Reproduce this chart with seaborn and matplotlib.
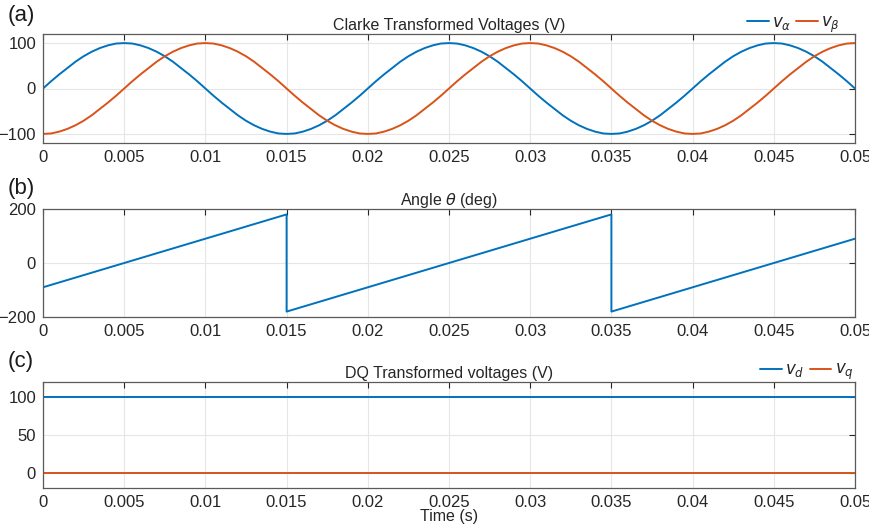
import matplotlib
matplotlib.use("Agg")
import matplotlib.pyplot as plt
import seaborn as sns

# ---- data ----
t_wave = [i * 0.0005 for i in range(101)]
v_alpha = [0, 16, 31, 45, 59, 71, 81, 89, 95, 99, 100, 99, 95, 89, 81, 71, 59, 45, 31, 16,
           0, -16, -31, -45, -59, -71, -81, -89, -95, -99, -100, -99, -95, -89, -81, -71, -59, -45, -31, -16,
           0, 16, 31, 45, 59, 71, 81, 89, 95, 99, 100, 99, 95, 89, 81, 71, 59, 45, 31, 16,
           0, -16, -31, -45, -59, -71, -81, -89, -95, -99, -100, -99, -95, -89, -81, -71, -59, -45, -31, -16,
           0, 16, 31, 45, 59, 71, 81, 89, 95, 99, 100, 99, 95, 89, 81, 71, 59, 45, 31, 16,
           0]
v_beta = [-100, -99, -95, -89, -81, -71, -59, -45, -31, -16, 0, 16, 31, 45, 59, 71, 81, 89, 95, 99,
          100, 99, 95, 89, 81, 71, 59, 45, 31, 16, 0, -16, -31, -45, -59, -71, -81, -89, -95, -99,
          -100, -99, -95, -89, -81, -71, -59, -45, -31, -16, 0, 16, 31, 45, 59, 71, 81, 89, 95, 99,
          100, 99, 95, 89, 81, 71, 59, 45, 31, 16, 0, -16, -31, -45, -59, -71, -81, -89, -95, -99,
          -100, -99, -95, -89, -81, -71, -59, -45, -31, -16, 0, 16, 31, 45, 59, 71, 81, 89, 95, 99,
          100]

t_theta = [0, 0.015, 0.015, 0.035, 0.035, 0.05]
theta = [-90, 180, -180, 180, -180, 90]

t_dq = [0, 0.05]
v_d = [100, 100]
v_q = [0, 0]

x_ticks = [0, 0.005, 0.01, 0.015, 0.02, 0.025, 0.03, 0.035, 0.04, 0.045, 0.05]
x_tick_labels = ["0", "0.005", "0.01", "0.015", "0.02", "0.025", "0.03", "0.035", "0.04", "0.045", "0.05"]

BLUE = "#0072BD"
ORANGE = "#D95319"

sns.set_style("white")
plt.rcParams["font.family"] = ["Liberation Sans", "DejaVu Sans"]
plt.rcParams["mathtext.fontset"] = "dejavusans"

fig = plt.figure(figsize=(8.7, 5.29), dpi=100)
W, H = 870, 529
def box(l, r, t, b):
    return [l / W, 1 - b / H, (r - l) / W, (b - t) / H]

axA = fig.add_axes(box(43, 855, 34, 143))
axB = fig.add_axes(box(43, 855, 209, 317))
axC = fig.add_axes(box(43, 855, 382, 488))

lw = 1.4
sns.lineplot(x=t_wave, y=v_alpha, ax=axA, color=BLUE, lw=lw, sort=False, estimator=None, label=r"$v_\alpha$")
sns.lineplot(x=t_wave, y=v_beta, ax=axA, color=ORANGE, lw=lw, sort=False, estimator=None, label=r"$v_\beta$")
sns.lineplot(x=t_theta, y=theta, ax=axB, color=BLUE, lw=lw, sort=False, estimator=None)
sns.lineplot(x=t_dq, y=v_d, ax=axC, color=BLUE, lw=lw, sort=False, estimator=None, label=r"$v_d$")
sns.lineplot(x=t_dq, y=v_q, ax=axC, color=ORANGE, lw=lw, sort=False, estimator=None, label=r"$v_q$")

axA.set_ylim(-120, 120); axA.set_yticks([-100, 0, 100])
axB.set_ylim(-200, 200); axB.set_yticks([-200, 0, 200])
axC.set_ylim(-20, 120); axC.set_yticks([0, 50, 100])

titles = ["Clarke Transformed Voltages (V)", r"Angle $\theta$ (deg)", "DQ Transformed voltages (V)"]
for ax, ttl in zip([axA, axB, axC], titles):
    ax.set_xlim(0, 0.05)
    ax.set_xticks(x_ticks)
    ax.set_xticklabels(x_tick_labels)
    ax.set_yticklabels([("\u2212" + str(abs(v)) if v < 0 else str(v)) for v in ax.get_yticks()])
    ax.tick_params(direction="in", length=4, width=0.8, top=True, right=True,
                   labelsize=12, colors="#262626", pad=5)
    ax.grid(True, color="#e6e6e6", lw=0.8)
    for s in ax.spines.values():
        s.set_color("#5a5a5a")
        s.set_linewidth(0.9)
    ax.set_title(ttl, fontsize=11.5, pad=3, color="#262626")
    ax.set_xlabel("")
    ax.set_ylabel("")

axA.legend(loc="lower right", bbox_to_anchor=(0.984, 0.98), ncol=2, frameon=False,
           fontsize=12, handlelength=1.3, handletextpad=0.2, columnspacing=0.3,
           borderaxespad=0.0, borderpad=0.1)
axC.legend(loc="lower right", bbox_to_anchor=(1.0, 0.98), ncol=2, frameon=False,
           fontsize=12, handlelength=1.3, handletextpad=0.2, columnspacing=0.3,
           borderaxespad=0.0, borderpad=0.1)

axC.set_xlabel("Time (s)", fontsize=11.5, color="#262626", labelpad=-1)

for lab, y in [("(a)", 16), ("(b)", 188), ("(c)", 361)]:
    fig.text(8 / W, 1 - y / H, lab, fontsize=16, va="center", ha="left", color="#1a1a1a")

fig.savefig("out.png", dpi=100)
